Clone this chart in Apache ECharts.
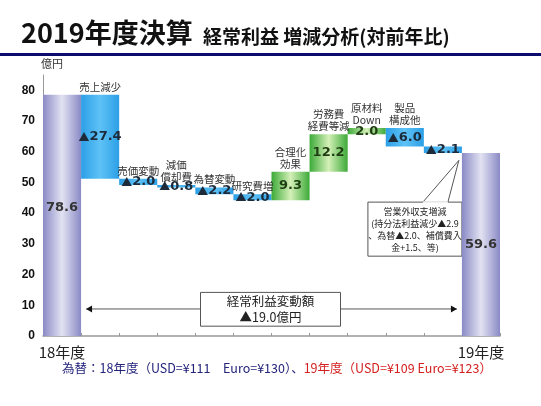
<!DOCTYPE html>
<html>
<head>
<meta charset="utf-8">
<script src="https://cdn.jsdelivr.net/npm/echarts@6/dist/echarts.min.js"></script>
<style>
  html, body { margin: 0; padding: 0; background: #fff; }
  #chart { width: 541px; height: 406px; }
</style>
</head>
<body>
<div id="chart"></div>
<script>
// 経常利益 増減分析 (億円)
const categories = ['18年度', '売上減少', '売価変動', '減価償却費', '為替変動', '研究費増',
    '合理化効果', '労務費経費等減', '原材料Down', '製品構成他', '営業外収支増減', '19年度']
const topLabels = ['', '売上減少', '売価変動', '減価\n償却費', '為替変動', '研究費増',
    '合理化\n効果', '労務費\n経費等減', '原材料\nDown', '製品\n構成他', '', '']
const xTickLabels = ['18年度', '', '', '', '', '', '', '', '', '', '', '19年度']
const startValue = 78.6
const endValue = 59.6
const changes = [-27.4, -2.0, -0.8, -2.2, -2.0, 9.3, 12.2, 2.0, -6.0, -2.1]
const totalChange = -19.0

const FONT = '"Noto Sans CJK JP", sans-serif'
const NUM_FONT = '"DejaVu Sans", "Noto Sans CJK JP", sans-serif'

function grad(edge, mid) {
    return new echarts.graphic.LinearGradient(0, 0, 1, 0, [
        {offset: 0, color: edge}, {offset: 0.5, color: mid}, {offset: 1, color: edge}
    ])
}
const totalColor = grad('#8a8ac6', '#e2e2f2')
const downColor = grad('#2c9fe6', '#5ec2f6')
const upColor = grad('#3caa38', '#d4f0b8')

function fmt(v) {
    return Math.abs(v).toFixed(1)
}
function richFmt(v) {
    return (v < 0 ? '{t|▲}' : '') + fmt(v)
}

// 滝グラフ用に base と高さを組み立てる
let base = [0]
let bars = [{value: startValue, itemStyle: {color: totalColor},
    label: {color: '#333', offset: [0, -8]}, text: richFmt(startValue)}]
let level = startValue
changes.forEach(c => {
    let next = +(level + c).toFixed(1)
    base.push(Math.min(level, next))
    bars.push({
        value: Math.abs(c),
        itemStyle: {color: c < 0 ? downColor : upColor},
        label: {color: c < 0 ? '#1c2a3a' : '#1f3d12'},
        text: richFmt(c)
    })
    level = next
})
base.push(0)
bars.push({value: endValue, itemStyle: {color: totalColor}, label: {color: '#333'}, text: richFmt(endValue)})
let caps = categories.map(() => 0)

let chart = echarts.init(document.getElementById('chart'))

chart.setOption({
    animation: false,
    textStyle: {fontFamily: FONT},
    grid: {left: 43, right: 41, top: 75, bottom: 70, outerBoundsMode: 'none'},
    xAxis: {
        type: 'category',
        data: categories,
        axisLine: {lineStyle: {color: '#999', width: 1.5}},
        axisTick: {show: true, inside: true, length: 3, lineStyle: {color: '#999'}},
        axisLabel: {
            interval: 0, margin: 9, fontSize: 15, color: '#222', fontFamily: FONT,
            formatter: (v, i) => xTickLabels[i]
        }
    },
    yAxis: {
        type: 'value',
        min: 0, max: 85, interval: 10,
        name: '億円',
        nameLocation: 'end',
        nameGap: 6,
        nameTextStyle: {fontSize: 11, color: '#333', align: 'left', padding: [0, 0, 0, -2]},
        axisLine: {show: true, lineStyle: {color: '#999'}},
        axisTick: {show: false},
        splitLine: {show: false},
        axisLabel: {
            showMaxLabel: false, fontSize: 12, fontWeight: 'bold', color: '#111',
            margin: 8, fontFamily: 'Arial, "Liberation Sans", sans-serif'
        }
    },
    series: [
        {
            type: 'bar', stack: 'wf', silent: true,
            data: base,
            itemStyle: {color: 'transparent'},
            barCategoryGap: 0
        },
        {
            type: 'bar', stack: 'wf',
            data: bars.map(b => ({value: b.value, itemStyle: b.itemStyle, label: b.label})),
            barCategoryGap: 0,
            label: {
                show: true, position: 'inside',
                fontFamily: NUM_FONT, fontSize: 13, fontWeight: 'bold',
                formatter: p => bars[p.dataIndex].text,
                rich: {t: {fontSize: 11, fontFamily: FONT, fontWeight: 'bold'}}
            }
        },
        {
            type: 'bar', stack: 'wf',
            data: caps,
            barCategoryGap: 0,
            itemStyle: {color: 'transparent'},
            label: {
                show: true, position: 'top', distance: 2,
                fontSize: 10.5, lineHeight: 12, color: '#333', fontFamily: FONT,
                formatter: p => topLabels[p.dataIndex]
            }
        }
    ]
})

// 注記 (ピクセル位置は軸から換算)
let px = (i, v) => chart.convertToPixel({gridIndex: 0}, [i, v])
let band = px(1, 0)[0] - px(0, 0)[0]
let last = categories.length - 1

let arrowY = px(0, 8.8)[1]
let arrowL = px(0, 0)[0] + band / 2 + 5
let arrowR = px(last, 0)[0] - band / 2 - 5
let boxTop = px(0, 14.2)[1]
let boxBot = px(0, 3.2)[1]
let boxCx = (px(5, 0)[0] + px(6, 0)[0]) / 2 - 1
let boxW = 140

let tip = px(10, 57.2)
tip[0] += band * 0.42
let cTop = px(0, 43.6)[1]
let cBot = px(0, 26.0)[1]
let cR = px(10, 0)[0] + band / 2
let cL = cR - 94

chart.setOption({
    graphic: [
        {type: 'text', left: 21, top: 19,
            style: {text: '2019年度決算', font: 'bold 27px ' + FONT, fill: '#111'}},
        {type: 'text', left: 203, top: 27,
            style: {text: '経常利益 増減分析(対前年比)', font: 'bold 19px ' + FONT, fill: '#111'}},
        {type: 'rect', shape: {x: 0, y: 53, width: 541, height: 3}, style: {fill: '#0c0c6e'}},
        // 変動額の矢印
        {type: 'line', shape: {x1: arrowL, y1: arrowY, x2: arrowR, y2: arrowY},
            style: {stroke: '#555', lineWidth: 1}},
        {type: 'polygon', shape: {points: [[arrowL, arrowY], [arrowL + 6, arrowY - 3.5], [arrowL + 6, arrowY + 3.5]]},
            style: {fill: '#111'}},
        {type: 'polygon', shape: {points: [[arrowR, arrowY], [arrowR - 6, arrowY - 3.5], [arrowR - 6, arrowY + 3.5]]},
            style: {fill: '#111'}},
        {type: 'rect', shape: {x: boxCx - boxW / 2, y: boxTop, width: boxW, height: boxBot - boxTop},
            style: {fill: '#fff', stroke: '#555', lineWidth: 1}},
        {type: 'text', x: boxCx, y: (boxTop + boxBot) / 2,
            style: {text: '経常利益変動額\n▲' + fmt(totalChange) + '億円', font: '12.5px ' + FONT, lineHeight: 16,
                fill: '#222', align: 'center', verticalAlign: 'middle'}},
        // 営業外収支の吹き出し
        {type: 'polyline', shape: {points: [[cL + 55, cTop], tip, [cL + 80, cTop]]},
            style: {stroke: '#555', fill: '#fff', lineWidth: 1}},
        {type: 'rect', shape: {x: cL, y: cTop, width: cR - cL, height: cBot - cTop},
            style: {fill: '#fff', stroke: '#555', lineWidth: 1}},
        {type: 'line', shape: {x1: cL + 55, y1: cTop, x2: cL + 80, y2: cTop},
            style: {stroke: '#fff', lineWidth: 1.5}},
        {type: 'text', x: (cL + cR) / 2, y: (cTop + cBot) / 2,
            style: {text: '営業外収支増減\n(持分法利益減少▲2.9\n、為替▲2.0、補償費入\n金+1.5、等)',
                font: '9px ' + FONT, lineHeight: 12, fill: '#222', align: 'center', verticalAlign: 'middle'}},
        // 為替レート
        {type: 'text', left: 62, top: 362,
            style: {
                text: '{a|為替：18年度（USD=¥111　Euro=¥130）、}{b|19年度（USD=¥109 Euro=¥123）}',
                rich: {
                    a: {fontSize: 12.5, fontFamily: FONT, fill: '#23237a', color: '#23237a'},
                    b: {fontSize: 12.5, fontFamily: FONT, fill: '#d42020', color: '#d42020'}
                }
            }}
    ]
})
</script>
</body>
</html>
